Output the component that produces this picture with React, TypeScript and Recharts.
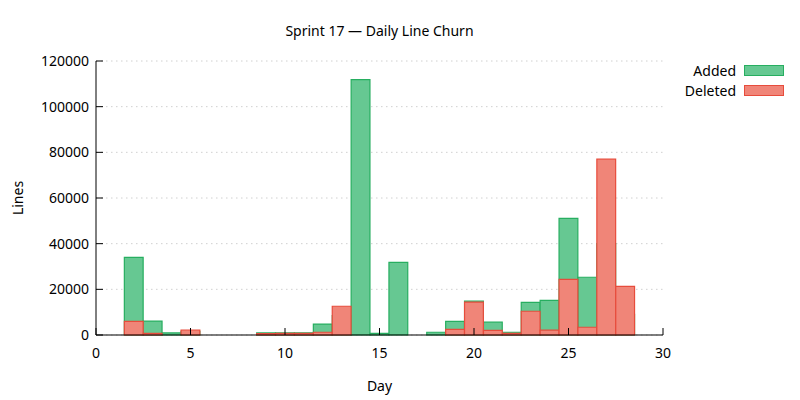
import { BarChart, Bar, XAxis, YAxis, CartesianGrid, Legend, ReferenceLine } from 'recharts';

// days that have any churn
const days = [2, 3, 4, 5, 9, 10, 11, 12, 13, 14, 15, 16, 18, 19, 20, 21, 22, 23, 24, 25, 26, 27, 28];
const added = [34000, 6100, 900, 1600, 900, 900, 900, 4800, 8500, 111800, 750, 31800, 1200, 6000, 14800, 5600, 1200, 14300, 15200, 51100, 25300, 40000, 9000];
const deleted = [6000, 700, 0, 2200, 600, 700, 700, 1200, 12600, 0, 0, 0, 0, 2500, 14400, 2000, 700, 10400, 2100, 24400, 3400, 77000, 21300];
const xTicks = [0, 5, 10, 15, 20, 25, 30];
const yTicks = [0, 20000, 40000, 60000, 80000, 100000, 120000];

const data = days.map((d, i) => ({ day: d, added: added[i], deleted: deleted[i] }));

const GREEN = '#66c892';
const GREEN_EDGE = '#27ae60';
const RED = '#f08578';
const RED_EDGE = '#e74c3c';
const FONT = '"Noto Sans", sans-serif';

const XTick = (props: any) => {
  const { x, y, payload } = props;
  return (
    <g>
      <line x1={x} x2={x} y1={y - 13} y2={y - 20} stroke="#000" />
      <text x={x} y={y} dy="0.71em" textAnchor="middle" fontSize={14} fontFamily={FONT} fill="#000">
        {payload.value}
      </text>
    </g>
  );
};

const YTick = (props: any) => {
  const { x, y, payload } = props;
  return (
    <g>
      <line x1={x + 7} x2={x + 14} y1={y} y2={y} stroke="#000" />
      <text x={x} y={y} dy="0.35em" textAnchor="end" fontSize={14} fontFamily={FONT} fill="#000">
        {payload.value}
      </text>
    </g>
  );
};

const LegendBox = () => {
  const items = [
    { name: 'Added', fill: GREEN, edge: GREEN_EDGE },
    { name: 'Deleted', fill: RED, edge: RED_EDGE },
  ];
  return (
    <div style={{ fontFamily: FONT, fontSize: 14, color: '#000' }}>
      {items.map((it) => (
        <div key={it.name} style={{ display: 'flex', alignItems: 'center', justifyContent: 'flex-end', height: 19.8 }}>
          <span style={{ marginRight: 8 }}>{it.name}</span>
          <span style={{ display: 'inline-block', width: 38, height: 9, background: it.fill, border: `1px solid ${it.edge}` }} />
        </div>
      ))}
    </div>
  );
};

export default function App() {
  return (
    <div style={{ position: 'absolute', left: 0, top: 0, width: 800, height: 400, background: '#fff' }}>
      <div
        style={{
          position: 'absolute', left: 96, top: 21, width: 567, lineHeight: '20px',
          textAlign: 'center', fontFamily: FONT, fontSize: 14, color: '#000',
        }}
      >
        Sprint 17 — Daily Line Churn
      </div>
      <BarChart width={800} height={400} data={data} margin={{ top: 61, right: 137, bottom: 0, left: 0 }}>
        <CartesianGrid vertical={false} stroke="#d0d0d0" strokeDasharray="1.5 3.5" yAxisId="y" xAxisId="a" />
        <XAxis
          xAxisId="a"
          type="number"
          dataKey="day"
          domain={[0, 30]}
          ticks={xTicks}
          height={65}
          tickSize={0}
          tickMargin={13}
          tickLine={false}
          axisLine={false}
          zIndex={0}
          tick={<XTick />}
          label={{ value: 'Day', position: 'insideBottom', offset: 9, fontSize: 14, fontFamily: FONT, fill: '#000' }}
        />
        <XAxis xAxisId="b" type="number" dataKey="day" domain={[0, 30]} hide />
        <YAxis
          yAxisId="y"
          domain={[0, 120000]}
          ticks={yTicks}
          width={96}
          tickSize={0}
          tickMargin={7}
          tickLine={false}
          axisLine={{ stroke: '#000' }}
          tick={<YTick />}
          label={{
            content: (p: any) => {
              const cy = p.viewBox.y + p.viewBox.height / 2;
              return (
                <text x={18} y={cy} transform={`rotate(-90, 18, ${cy})`} dy="0.35em" textAnchor="middle"
                  fontSize={14} fontFamily={FONT} fill="#000">
                  Lines
                </text>
              );
            },
          }}
        />
        <Legend
          layout="horizontal"
          verticalAlign="middle"
          align="center"
          wrapperStyle={{ top: 60.5, left: 640, width: 144 }}
          content={<LegendBox />}
        />
        <Bar xAxisId="a" yAxisId="y" dataKey="added" name="Added" barSize={18.8}
          fill={GREEN} stroke={GREEN_EDGE} strokeWidth={1.2} isAnimationActive={false} />
        <Bar xAxisId="b" yAxisId="y" dataKey="deleted" name="Deleted" barSize={18.8}
          fill={RED} stroke={RED_EDGE} strokeWidth={1.2} isAnimationActive={false} />
        <ReferenceLine xAxisId="a" yAxisId="y" y={0} stroke="#000" strokeWidth={1.2} />
      </BarChart>
    </div>
  );
}
